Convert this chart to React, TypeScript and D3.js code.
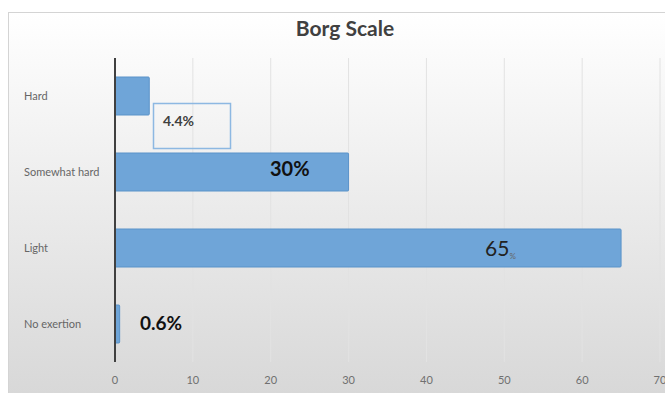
import React from "react";
import * as d3 from "d3";

const categories = ["Hard", "Somewhat hard", "Light", "No exertion"];
const values = [4.4, 30, 65, 0.6];
const ticks = [0, 10, 20, 30, 40, 50, 60, 70];
const title = "Borg Scale";

export default function App() {
  const W = 665, H = 393;
  const x = d3.scaleLinear().domain([0, 70]).range([115, 660]);
  const y = d3.scaleBand().domain(categories).range([58, 362]).paddingInner(0.5).paddingOuter(0.25);
  const font = "Lato, 'Open Sans', sans-serif";
  const bw = y.bandwidth();
  return (
    <svg width={W} height={H} style={{ position: "absolute", left: 0, top: 0 }}>
      <defs>
        <linearGradient id="bg" x1="0" y1="0" x2="0" y2="1">
          <stop offset="0" stopColor="#ffffff" />
          <stop offset="1" stopColor="#d8d8d8" />
        </linearGradient>
      </defs>
      <rect x={0} y={0} width={W} height={H} fill="#fff" />
      <rect x={8.5} y={12.5} width={W} height={H - 12} fill="url(#bg)" stroke="#d4d4d4" />
      <text x={345} y={36} textAnchor="middle" fontFamily={font} fontWeight="bold" fontSize={21} fill="#404040">{title}</text>
      {ticks.slice(1).map(t => (
        <line key={t} x1={x(t)} x2={x(t)} y1={58} y2={362} stroke="#e2e2e2" strokeWidth={1} />
      ))}
      {categories.map((c, i) => (
        <g key={c}>
          <rect x={x(0)} y={y(c)!} width={x(values[i]) - x(0)} height={bw} fill="#6fa5d8" stroke="#5b93c9" strokeWidth={1} rx={1} />
          <text x={24} y={y(c)! + bw / 2 + 4} fontFamily={font} fontSize={11} fill="#666">{c}</text>
        </g>
      ))}
      <line x1={x(0)} x2={x(0)} y1={58} y2={362} stroke="#404040" strokeWidth={2} />
      {ticks.map(t => (
        <text key={t} x={x(t)} y={384} textAnchor="middle" fontFamily={font} fontSize={11} fill="#707070">{t}</text>
      ))}
      {/* data labels */}
      <rect x={153.5} y={103.5} width={77} height={45} fill="none" stroke="#8db8e2" strokeWidth={1.5} />
      <text x={163} y={126} fontFamily={font} fontWeight="bold" fontSize={14} fill="#404040">{values[0]}%</text>
      <text x={270} y={176} fontFamily={font} fontWeight="bold" fontSize={20} fill="#111">{values[1]}%</text>
      <text x={485} y={256} fontFamily={font} fontSize={21} fill="#222">{values[2]}<tspan fontSize={8} fill="#666" dy={3}>%</tspan></text>
      <text x={140} y={330} fontFamily={font} fontWeight="bold" fontSize={19} fill="#111">{values[3]}%</text>
    </svg>
  );
}
